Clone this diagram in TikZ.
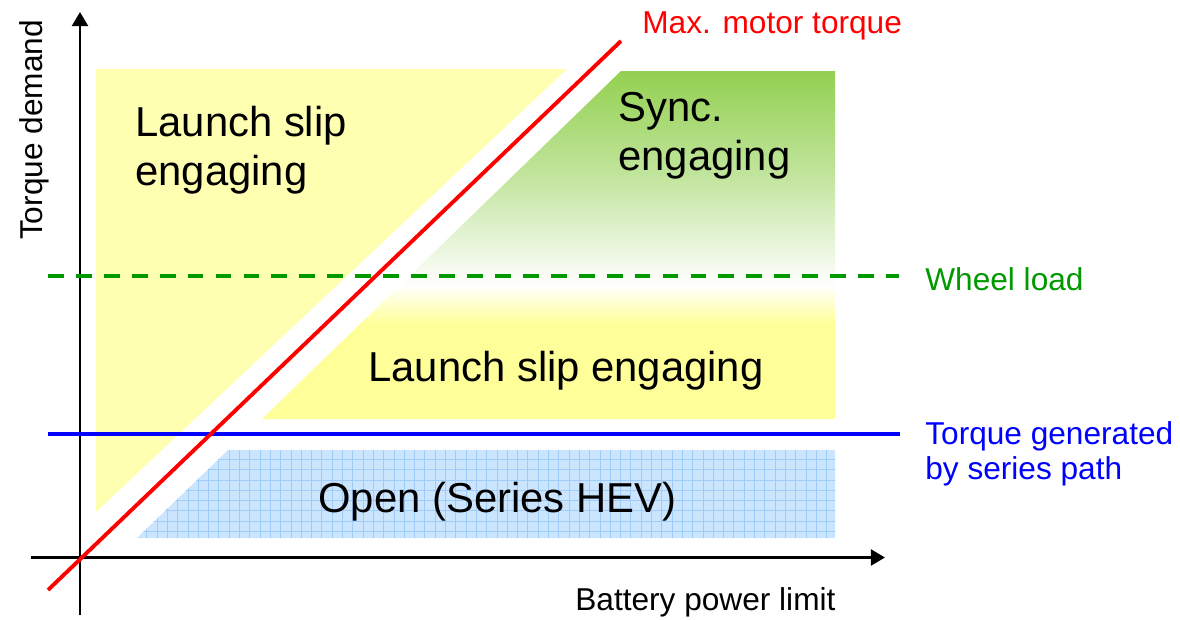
\documentclass[tikz,border=0pt]{standalone}
\usepackage{fontspec}
\setmainfont{Liberation Sans}
\usetikzlibrary{arrows.meta}
\definecolor{lyellow}{RGB}{255,255,178}
\definecolor{syellow}{RGB}{255,255,153}
\definecolor{sgreen}{RGB}{146,208,80}
\definecolor{lblue}{RGB}{204,229,255}
\definecolor{gblue}{RGB}{160,204,250}
\definecolor{dgreen}{RGB}{0,153,0}
\tikzset{
  axisline/.style={line width=1.6pt, -{Triangle[length=8pt,width=9pt]}},
  boldline/.style={line width=2.2pt},
  smalltxt/.style={font=\fontsize{18}{21}\selectfont, inner sep=0pt},
  bigtxt/.style={font=\fontsize{23.8}{27.8}\selectfont, inner sep=0pt},
  bgrid/.style={draw=gblue, line width=0.4pt},
}
\begin{document}
\begin{tikzpicture}[x=0.02cm,y=-0.02cm]
\useasboundingbox (0,0) rectangle (1180,619);

% left launch slip region
\fill[lyellow] (96,69) -- (567,69) -- (96,512) -- cycle;

% sync / launch slip region
\begin{scope}
  \clip (621,71) -- (835,71) -- (835,419) -- (262,419) -- cycle;
  \shade[top color=sgreen, bottom color=white, middle color=sgreen!55!white] (250,70) rectangle (840,286);
  \shade[top color=white, bottom color=syellow] (250,285) rectangle (840,324);
  \fill[syellow] (250,323) rectangle (840,420);
\end{scope}

% open region
\begin{scope}
  \clip (228,450) -- (835,450) -- (835,538) -- (137,538) -- cycle;
  \fill[lblue] (130,445) rectangle (840,540);
  \foreach \i in {-1,...,68} \draw[bgrid] ({146.7+10.3*\i},445) -- ++(0,100);
  \foreach \j in {-1,...,8} \draw[bgrid] (120,{459.3+10.3*\j}) -- ++(730,0);
\end{scope}

% axes
\coordinate (yb) at (80,615);
\coordinate (yt) at (80,12);
\coordinate (xl) at (31,557.5);
\coordinate (xr) at (885,557.5);
\draw[axisline] (yb) -- (yt);
\draw[axisline] (xl) -- (xr);

% lines
\coordinate (wl1) at (48,276);
\coordinate (wl2) at (899,276);
\draw[dgreen, boldline, dash pattern=on 9pt off 6.9pt] (wl1) -- (wl2);
\coordinate (tg1) at (48,434);
\coordinate (tg2) at (900,434);
\draw[blue, boldline] (tg1) -- (tg2);
\coordinate (mt1) at (48,590);
\coordinate (mt2) at (621,41);
\draw[red, boldline] (mt1) -- (mt2);

% labels
\node[smalltxt, red, anchor=base west] (lmt) at (642,33) {Max. motor torque};
\node[smalltxt, dgreen, anchor=base west] (lwl) at (925,290) {Wheel load};
\node[smalltxt, blue, anchor=base west] (ltg1) at (925,444) {Torque generated};
\node[smalltxt, blue, anchor=base west] (ltg2) at (925,479) {by series path};
\node[smalltxt, anchor=base west] (lbp) at (575,610) {Battery power limit};
\node[smalltxt, anchor=base, rotate=90] (ltd) at (42,130) {Torque demand};

\node[bigtxt, anchor=base west] (ls1) at (135,136) {Launch slip};
\node[bigtxt, anchor=base west] (ls2) at (135,185) {engaging};
\node[bigtxt, anchor=base west] (se1) at (618,121) {Sync.};
\node[bigtxt, anchor=base west] (se2) at (618,170) {engaging};
\node[bigtxt, anchor=base west] (ls3) at (368,381) {Launch slip engaging};
\node[bigtxt, anchor=base west] (op) at (318,512) {Open (Series HEV)};
\end{tikzpicture}
\end{document}
